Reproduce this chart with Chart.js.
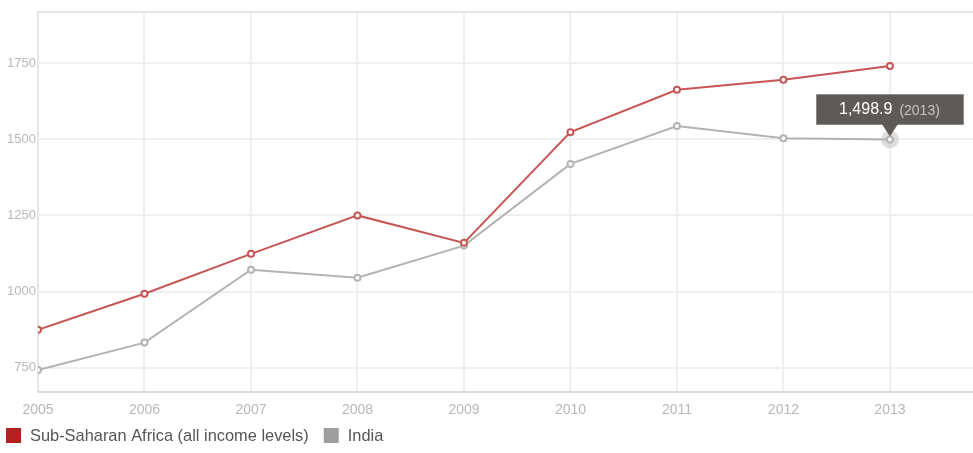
<!DOCTYPE html>
<html>
<head>
<meta charset="utf-8">
<script src="https://cdn.jsdelivr.net/npm/chart.js@4/dist/chart.umd.min.js"></script>
<style>
  html, body { margin: 0; padding: 0; background: #fff; }
  #wrap { position: relative; width: 973px; height: 453px; }
</style>
</head>
<body>
<div id="wrap"><canvas id="chart"></canvas></div>
<script>
// data
const years = [2005, 2006, 2007, 2008, 2009, 2010, 2011, 2012, 2013];
const africa = [875, 993, 1124, 1250, 1160, 1523, 1662, 1695, 1740];
const india = [743, 833, 1072, 1046, 1151, 1419, 1543, 1503, 1498.9];
const yTicks = [750, 1000, 1250, 1500, 1750];
const seriesNames = ['Sub-Saharan Africa (all income levels)', 'India'];
const swatchColors = ['#b22222', '#9e9e9e'];
const hoverIndex = 8;

const toPoints = vals => vals.map((v, i) => ({ x: years[i], y: v }));
const FONT = '"Liberation Sans", Arial, sans-serif';

// frame around plot area
const framePlugin = {
    id: 'frame',
    beforeDatasetsDraw(chart) {
        const { ctx, chartArea: a } = chart;
        ctx.save();
        ctx.strokeStyle = '#e6e6e6';
        ctx.lineWidth = 2;
        ctx.beginPath();
        ctx.moveTo(a.left, a.bottom);
        ctx.lineTo(a.left, a.top);
        ctx.lineTo(a.right, a.top);
        ctx.stroke();
        ctx.strokeStyle = '#dcdcdc';
        ctx.beginPath();
        ctx.moveTo(a.left, a.bottom);
        ctx.lineTo(a.right, a.bottom);
        ctx.stroke();
        ctx.restore();
    }
};

// legend row under the axis, drawn from the datasets
const legendPlugin = {
    id: 'bottomLegend',
    afterDraw(chart) {
        const ctx = chart.ctx;
        let x = 6;
        const y = 428;
        ctx.save();
        ctx.font = '16.4px ' + FONT;
        ctx.textBaseline = 'middle';
        chart.data.datasets.forEach((ds, i) => {
            ctx.fillStyle = swatchColors[i];
            ctx.fillRect(x, y, 15, 15);
            ctx.fillStyle = '#555555';
            ctx.fillText(ds.label, x + 24, y + 8);
            x += 24 + ctx.measureText(ds.label).width + 15;
        });
        ctx.restore();
    }
};

// hover halo + tooltip box like the original page
const hoverPlugin = {
    id: 'hoverTip',
    beforeDatasetsDraw(chart) {
        const pt = chart.getDatasetMeta(1).data[hoverIndex];
        const ctx = chart.ctx;
        ctx.save();
        ctx.fillStyle = 'rgba(200,200,200,0.6)';
        ctx.beginPath();
        ctx.arc(pt.x, pt.y, 9, 0, Math.PI * 2);
        ctx.fill();
        ctx.restore();
    },
    afterDraw(chart) {
        const pt = chart.getDatasetMeta(1).data[hoverIndex];
        const ctx = chart.ctx;
        const val = india[hoverIndex].toLocaleString('en-US', { minimumFractionDigits: 1 });
        const yr = '(' + years[hoverIndex] + ')';
        ctx.save();
        ctx.font = '16px ' + FONT;
        const w1 = ctx.measureText(val).width;
        ctx.font = '14px ' + FONT;
        const w2 = ctx.measureText(yr).width;
        const w = Math.round(23 + w1 + 7 + w2 + 23);
        const h = 30;
        const bx = Math.round(pt.x - 74);
        const by = Math.round(pt.y - 46);
        ctx.fillStyle = 'rgba(84,80,78,0.94)';
        ctx.strokeStyle = '#8e8a87';
        ctx.lineWidth = 1;
        ctx.beginPath();
        ctx.rect(bx + 0.5, by + 0.5, w, h);
        ctx.fill();
        ctx.stroke();
        // pointer
        ctx.beginPath();
        ctx.moveTo(pt.x - 8, by + h);
        ctx.lineTo(pt.x, pt.y - 3);
        ctx.lineTo(pt.x + 8, by + h);
        ctx.closePath();
        ctx.fill();
        ctx.textBaseline = 'middle';
        ctx.font = '16px ' + FONT;
        ctx.fillStyle = '#ffffff';
        ctx.fillText(val, bx + 23, by + h / 2 + 1);
        ctx.font = '14px ' + FONT;
        ctx.fillStyle = '#c8c4c2';
        ctx.fillText(yr, bx + 30 + w1, by + h / 2 + 2);
        ctx.restore();
    }
};

new Chart(document.getElementById('chart'), {
    type: 'line',
    data: {
        datasets: [{
            label: seriesNames[0],
            data: toPoints(africa),
            borderColor: '#c85555',
            pointBackgroundColor: '#ffffff',
            pointBorderColor: '#c85555',
            pointRadius: 3,
            pointBorderWidth: 2,
            borderWidth: 2,
            tension: 0
        }, {
            label: seriesNames[1],
            data: toPoints(india),
            borderColor: '#b3b3b3',
            pointBackgroundColor: '#ffffff',
            pointBorderColor: '#b3b3b3',
            pointRadius: 3,
            pointBorderWidth: 2,
            borderWidth: 2,
            tension: 0
        }]
    },
    options: {
        responsive: true,
        maintainAspectRatio: false,
        animation: false,
        events: [],
        layout: { autoPadding: false, padding: { top: 12, right: 0, left: 0, bottom: 31 } },
        scales: {
            x: {
                type: 'linear',
                min: 2005,
                max: 2013.78,
                border: { display: false },
                afterFit: s => { s.paddingRight = 0; s.paddingLeft = 0; s.height = 30; },
                grid: { color: '#efefef', lineWidth: 2, drawTicks: false },
                ticks: {
                    stepSize: 1,
                    includeBounds: false,
                    color: '#b8b8b8',
                    padding: 10,
                    maxRotation: 0,
                    font: { size: 14, family: FONT },
                    callback: v => Number.isInteger(v) ? String(v) : ''
                }
            },
            y: {
                min: 671,
                max: 1917,
                border: { display: false },
                afterFit: s => { s.width = 38; },
                afterBuildTicks: s => { s.ticks = yTicks.map(v => ({ value: v })); },
                grid: { color: '#efefef', lineWidth: 2, drawTicks: false },
                ticks: {
                    color: '#b8b8b8',
                    padding: 2,
                    font: { size: 13, family: FONT },
                    callback: v => String(v)
                }
            }
        },
        plugins: {
            legend: { display: false },
            tooltip: { enabled: false }
        }
    },
    plugins: [framePlugin, hoverPlugin, legendPlugin]
});
</script>
</body>
</html>
